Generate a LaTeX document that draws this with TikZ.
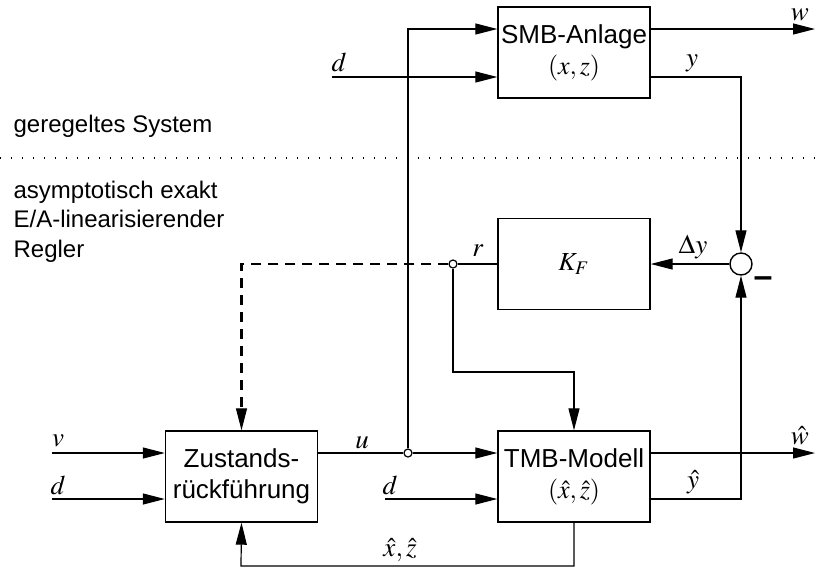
\documentclass[tikz,border=0pt]{standalone}
\usepackage{mathptmx}
\usepackage{fontspec}
\setmainfont{Liberation Sans}
\usetikzlibrary{arrows.meta,positioning,calc}

\begin{document}
\begin{tikzpicture}[x=0.5pt,y=-0.5pt,line width=0.6pt,
    block/.style={draw,line width=0.7pt,minimum width=76pt,minimum height=45.5pt,
      align=center,inner sep=0pt,font=\fontsize{13}{15.5}\selectfont},
    arr/.style={-{Triangle[length=11pt,width=5.5pt]}},
    lbl/.style={inner sep=0pt,font=\fontsize{13.5}{15}\selectfont},
    junc/.style={draw,circle,minimum size=4pt,inner sep=0pt},
    sumc/.style={draw,line width=0.7pt,circle,minimum size=11pt,inner sep=0pt},
    dashline/.style={line width=1.2pt,dash pattern=on 5pt off 3.5pt}]
  \useasboundingbox (0,0) rectangle (821,570);

  % blocks
  \node[block] (smb) at (574,52.5) {SMB-Anlage\\$(x,z)$};
  \node[block] (kf) at (574,264) {$K_F$};
  \node[block] (tmb) at (574,476.5) {TMB-Modell\\$(\hat{x},\hat{z})$};
  \node[block] (zr) at (241.5,476.5) {Zustands-\\rückführung};
  \node[sumc] (sum) at (741,264) {};
  \node[junc] (rj) at (453,264) {};
  \node[junc] (uj) at (408,453) {};

  % free ends
  \coordinate (dS) at (332,77);
  \coordinate (wS) at (815,29);
  \coordinate (vZ) at (52,453);
  \coordinate (dZ) at (52,499);
  \coordinate (dT) at (385,499);
  \coordinate (wT) at (815,453);
  \coordinate (rk) at (453,372);
  \coordinate (fb) at (241,566);
  \coordinate (sepL) at (0,158);
  \coordinate (sepR) at (821,158);

  % separator
  \draw[dash pattern=on 0.6pt off 4.9pt] (sepL) -- (sepR);

  % connections
  \draw[arr] (uj.north) |- (smb.west |- wS);
  \draw[arr] (dS) -- (dS -| smb.west);
  \draw[arr] (smb.east |- wS) -- (wS);
  \draw[arr] (smb.east |- dS) -| (sum.north);
  \draw[arr] (sum.west) -- (kf.east);
  \draw (kf.west) -- (rj.east);
  \draw[dashline] (rj.west) -| ($(zr.north)+(0,-20)$);
  \draw[arr] ($(zr.north)+(0,-21)$) -- (zr.north);
  \draw[arr] (rj.south) -- (rk) -| (tmb.north);
  \draw (zr.east |- uj) -- (uj.west);
  \draw[arr] (uj.east) -- (uj -| tmb.west);
  \draw[arr] (vZ) -- (vZ -| zr.west);
  \draw[arr] (dZ) -- (dZ -| zr.west);
  \draw[arr] (dT) -- (dT -| tmb.west);
  \draw[arr] (tmb.east |- wT) -- (wT);
  \draw[arr] (tmb.east |- dT) -| (sum.south);
  \draw[arr] (tmb.south) |- (fb) -- (zr.south);

  % labels
  \node[lbl] (lw) at (800,15) {$w$};
  \node[lbl] (ld1) at (339,62) {$d$};
  \node[lbl] (ly) at (692,63) {$y$};
  \node[lbl] (ldy) at (693,247) {$\Delta y$};
  \node[lbl] (lr) at (478,251) {$r$};
  \node[lbl] (lmin) at (763,282) {\bfseries\fontsize{17}{17}\selectfont --};
  \node[lbl] (lv) at (58,441) {$v$};
  \node[lbl] (ld2) at (58,485) {$d$};
  \node[lbl] (lu) at (362,443) {$u$};
  \node[lbl] (ld3) at (390,485) {$d$};
  \node[lbl] (lxz) at (400,550) {$\hat{x},\hat{z}$};
  \node[lbl] (lwh) at (800,436) {$\hat{w}$};
  \node[lbl] (lyh) at (693,482) {$\hat{y}$};

  \node[anchor=base west,inner sep=0pt,font=\fontsize{12}{15}\selectfont] (sys) at (13,132) {geregeltes System};
  \node[anchor=north west,inner sep=0pt,align=left,font=\fontsize{12}{14.75}\selectfont] (ctrl) at (13,180)
    {asymptotisch exakt\\E/A-linearisierender\\Regler};
\end{tikzpicture}
\end{document}
